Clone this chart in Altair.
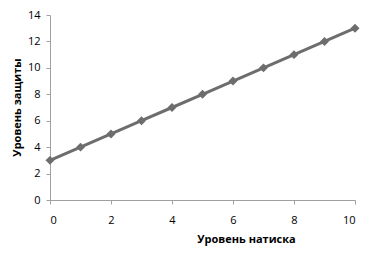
import altair as alt
import pandas as pd

x_vals = [0, 1, 2, 3, 4, 5, 6, 7, 8, 9, 10]
y_vals = [3, 4, 5, 6, 7, 8, 9, 10, 11, 12, 13]

df = pd.DataFrame({"x": x_vals, "y": y_vals})

font = "Open Sans"
gray = "#6d6d6d"

base = alt.Chart(df).encode(
    x=alt.X("x:Q", scale=alt.Scale(domain=[0, 10], nice=False),
            axis=alt.Axis(title="Уровень натиска", values=[0, 2, 4, 6, 8, 10],
                          grid=False, domainColor="#a0a0a0", tickColor="#a0a0a0",
                          tickSize=4, labelPadding=10, labelFontSize=11,
                          labelFont=font, labelColor="#000",
                          titleFont=font, titleFontSize=11, titleFontWeight="bold",
                          titleColor="#000", titleX=196, titleY=39,
                          titleBaseline="middle", titleAlign="center")),
    y=alt.Y("y:Q", scale=alt.Scale(domain=[0, 14], nice=False),
            axis=alt.Axis(title="Уровень защиты", values=[0, 2, 4, 6, 8, 10, 12, 14],
                          grid=False, domainColor="#a0a0a0", tickColor="#a0a0a0",
                          tickSize=4, labelPadding=6, labelFontSize=11,
                          labelFont=font, labelColor="#000",
                          titleFont=font, titleFontSize=11, titleFontWeight="bold",
                          titleColor="#000", titleX=-33, titleY=92, titleAngle=-90,
                          titleBaseline="middle", titleAlign="center")),
)

line = base.mark_line(color=gray, strokeWidth=3)
pts = base.mark_point(shape="diamond", filled=True, color=gray, size=80, opacity=1)

chart = (line + pts).properties(
    width=305, height=185,
    autosize=alt.AutoSizeParams(type="none"),
    padding={"left": 42, "top": 7, "right": 12, "bottom": 46},
).configure_view(stroke=None)

chart.save("out.html", embed_options={"renderer": "svg", "actions": False})
